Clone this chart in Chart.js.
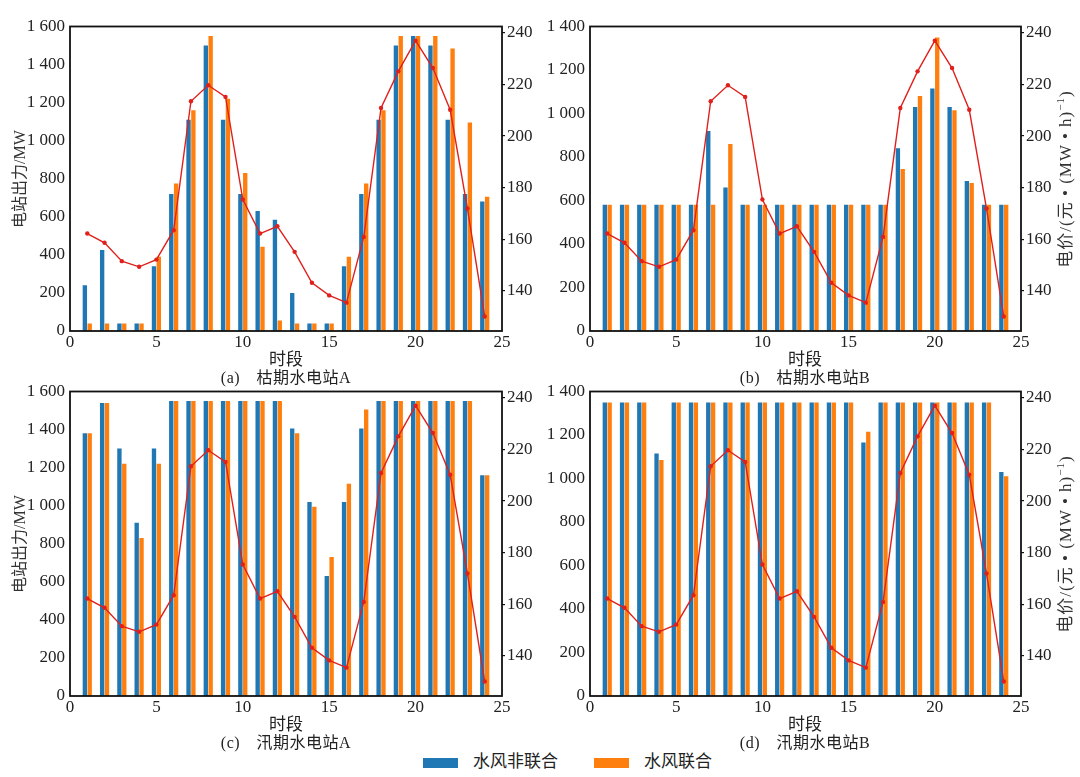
<!DOCTYPE html>
<html>
<head>
<meta charset="utf-8">
<script src="https://cdn.jsdelivr.net/npm/chart.js@4.4.0/dist/chart.umd.min.js"></script>
<style>
  body { margin: 0; background: #fff; width: 1080px; height: 777px; position: relative; overflow: hidden;
         font-family: 'Liberation Serif', 'Noto Sans CJK SC', serif; color: #222; }
  canvas { position: absolute; }
  .t { position: absolute; transform: translate(-50%, -50%); white-space: nowrap; }
  .v { position: absolute; transform: translate(-50%, -50%) rotate(-90deg); white-space: nowrap; color: #333; }
  .sw { display: inline-block; width: 35px; height: 10px; vertical-align: middle; }
</style>
</head>
<body>
<canvas id="pa" width="540" height="350" style="left:0;top:0"></canvas>
<canvas id="pb" width="540" height="350" style="left:540px;top:0"></canvas>
<canvas id="pc" width="540" height="350" style="left:0;top:365px"></canvas>
<canvas id="pd" width="540" height="350" style="left:540px;top:365px"></canvas>
<div id="texts"></div>
<script>
// time periods and tick labels
const hours = [1, 2, 3, 4, 5, 6, 7, 8, 9, 10, 11, 12, 13, 14, 15, 16, 17, 18, 19, 20, 21, 22, 23, 24];
const hourTicks = [0, 5, 10, 15, 20, 25];
const powerTicks16 = [0, 200, 400, 600, 800, 1000, 1200, 1400, 1600];
const powerTicks14 = [0, 200, 400, 600, 800, 1000, 1200, 1400];
const priceTicks = [140, 160, 180, 200, 220, 240];

const seriesNames = ["水风非联合", "水风联合"];

// electricity price, same for all four panels
const price = [162.2, 158.6, 151.5, 149.3, 152.1, 163.5, 213.5, 219.7, 215.2, 175.4, 162.2, 165.0,
               155.1, 143.1, 138.2, 135.4, 160.9, 210.9, 225.1, 237.0, 226.4, 210.2, 171.9, 130.0];

// (a) dry season, station A
const dryA_sep   = [240, 425, 40, 40, 340, 720, 1110, 1500, 1110, 720, 630, 585,
                    200, 40, 40, 340, 720, 1110, 1500, 1550, 1500, 1110, 720, 680];
const dryA_joint = [40, 40, 40, 40, 390, 775, 1160, 1550, 1220, 830, 443, 55,
                    40, 40, 40, 390, 775, 1160, 1550, 1550, 1550, 1485, 1095, 705];
// (b) dry season, station B
const dryB_sep   = [580, 580, 580, 580, 580, 580, 920, 660, 580, 580, 580, 580,
                    580, 580, 580, 580, 580, 840, 1030, 1115, 1030, 690, 580, 580];
const dryB_joint = [580, 580, 580, 580, 580, 580, 580, 860, 580, 580, 580, 580,
                    580, 580, 580, 580, 580, 745, 1080, 1350, 1015, 680, 580, 580];
// (c) flood season, station A
const wetA_sep   = [1380, 1540, 1300, 910, 1300, 1550, 1550, 1550, 1550, 1550, 1550, 1550,
                    1405, 1020, 630, 1020, 1405, 1550, 1550, 1550, 1550, 1550, 1550, 1160];
const wetA_joint = [1380, 1540, 1220, 830, 1220, 1550, 1550, 1550, 1550, 1550, 1550, 1550,
                    1380, 995, 730, 1115, 1505, 1550, 1550, 1550, 1550, 1550, 1550, 1160];
// (d) flood season, station B
const wetB_sep   = [1350, 1350, 1350, 1115, 1350, 1350, 1350, 1350, 1350, 1350, 1350, 1350,
                    1350, 1350, 1350, 1165, 1350, 1350, 1350, 1350, 1350, 1350, 1350, 1030];
const wetB_joint = [1350, 1350, 1350, 1085, 1350, 1350, 1350, 1350, 1350, 1350, 1350, 1350,
                    1350, 1350, 1350, 1215, 1350, 1350, 1350, 1350, 1350, 1350, 1350, 1010];

const BLUE = "#1f77b4", ORANGE = "#ff7f0e", RED = "#e0201c";
const FONT = "'Liberation Serif', 'Noto Sans CJK SC', serif";

function fmt(v) {
    return v >= 1000 ? Math.floor(v / 1000) + " " + String(v % 1000).padStart(3, "0") : String(v);
}

// black frame round the plot area
const frame = {
    id: "frame",
    afterDraw(chart) {
        const a = chart.chartArea, ctx = chart.ctx;
        ctx.save();
        ctx.strokeStyle = "#111";
        ctx.lineWidth = 1.8;
        ctx.strokeRect(a.left, a.top, a.right - a.left, a.bottom - a.top);
        ctx.restore();
    }
};

function pts(vals) { return hours.map((h, i) => ({ x: h, y: vals[i] })); }

function panel(id, sep, joint, yTicks, yWidth, y1Width) {
    new Chart(document.getElementById(id), {
        type: "bar",
        data: {
            datasets: [
                { type: "line", label: "电价", data: pts(price), yAxisID: "y1", order: 0,
                  borderColor: RED, backgroundColor: RED, borderWidth: 1.4,
                  pointRadius: 2.2, pointBorderWidth: 0, tension: 0 },
                { label: seriesNames[0], data: pts(sep), yAxisID: "y", order: 1,
                  backgroundColor: BLUE, categoryPercentage: 0.56, barPercentage: 0.9 },
                { label: seriesNames[1], data: pts(joint), yAxisID: "y", order: 1,
                  backgroundColor: ORANGE, categoryPercentage: 0.56, barPercentage: 0.9 }
            ]
        },
        options: {
            responsive: false,
            animation: false,
            devicePixelRatio: 1,
            layout: { padding: { top: 26.5, left: 0, right: 0, bottom: 0 } },
            plugins: { legend: { display: false }, tooltip: { enabled: false } },
            scales: {
                x: {
                    type: "linear", min: 0, max: 25, offset: false,
                    grid: { display: false, drawTicks: false, tickLength: 0, offset: false },
                    border: { display: false },
                    afterBuildTicks: s => { s.ticks = hourTicks.map(v => ({ value: v })); },
                    afterFit: s => { s.height = 19; },
                    ticks: { color: "#222", padding: 1, maxRotation: 0, font: { family: FONT, size: 17 } }
                },
                y: {
                    position: "left", min: 0, max: yTicks[yTicks.length - 1],
                    grid: { display: false, drawTicks: false, tickLength: 0 },
                    border: { display: false },
                    afterBuildTicks: s => { s.ticks = yTicks.map(v => ({ value: v })); },
                    afterFit: s => { s.width = yWidth; },
                    ticks: { color: "#222", padding: 5, callback: v => fmt(v), font: { family: FONT, size: 17 } }
                },
                y1: {
                    position: "right", min: 124.4, max: 242.5,
                    grid: { drawOnChartArea: false, drawTicks: true, tickLength: 3, color: "#111", lineWidth: 1.2 },
                    border: { display: false },
                    afterBuildTicks: s => { s.ticks = priceTicks.map(v => ({ value: v })); },
                    afterFit: s => { s.width = y1Width; },
                    ticks: { color: "#222", padding: 2, font: { family: FONT, size: 17 } }
                }
            }
        },
        plugins: [frame]
    });
}

panel("pa", dryA_sep, dryA_joint, powerTicks16, 70, 38);
panel("pb", dryB_sep, dryB_joint, powerTicks14, 50, 59);
panel("pc", wetA_sep, wetA_joint, powerTicks16, 70, 38);
panel("pd", wetB_sep, wetB_joint, powerTicks14, 50, 59);

// axis titles, captions and the shared legend
const captions = [
    { x: 286, y: 376, text: "(a)\u2003枯期水电站A" },
    { x: 805, y: 376, text: "(b)\u2003枯期水电站B" },
    { x: 286, y: 741, text: "(c)\u2003汛期水电站A" },
    { x: 805, y: 741, text: "(d)\u2003汛期水电站B" }
];
let html = "";
captions.forEach(c => {
    html += `<div class="t" style="left:${c.x}px;top:${c.y - 19}px;font-size:17px">时段</div>`;
    html += `<div class="t" style="left:${c.x}px;top:${c.y}px;font-size:16px;letter-spacing:0.5px">${c.text}</div>`;
});
[179, 544].forEach(y => {
    html += `<div class="v" style="left:18px;top:${y}px;font-size:16px">电站出力/MW</div>`;
    html += `<div class="v" style="left:1063px;top:${y}px;font-size:17px;letter-spacing:1px">电价/(元 • (MW • h)<sup style="font-size:11px">−1</sup>)</div>`;
});
html += `<div style="position:absolute;left:423px;top:752px;font-size:17px;line-height:20px">` +
        `<span class="sw" style="background:${BLUE}"></span><span style="margin:0 36px 0 15px">${seriesNames[0]}</span>` +
        `<span class="sw" style="background:${ORANGE}"></span><span style="margin-left:15px">${seriesNames[1]}</span></div>`;
document.getElementById("texts").innerHTML = html;
</script>
</body>
</html>
